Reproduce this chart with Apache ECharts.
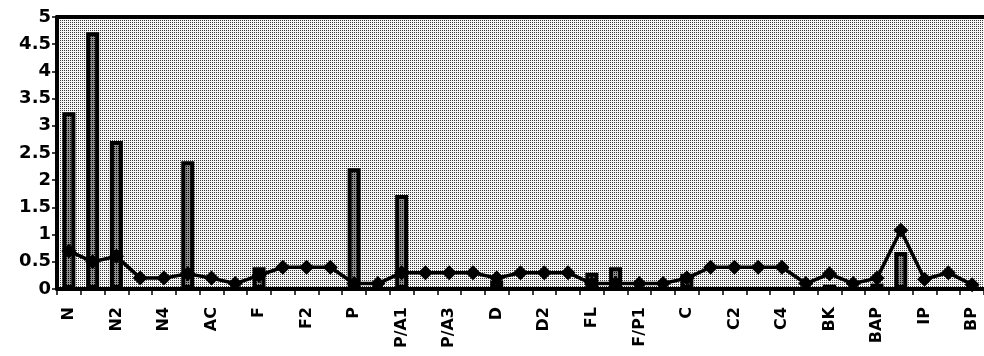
<!DOCTYPE html>
<html>
<head>
<meta charset="utf-8">
<script src="https://cdn.jsdelivr.net/npm/echarts@6/dist/echarts.min.js"></script>
<style>
  html, body { margin: 0; padding: 0; background: #fff; }
  #chart { width: 984px; height: 356px; }
</style>
</head>
<body>
<div id="chart"></div>
<script>
// Compound categories (every other one is labelled on the axis)
const categories = [
  'N', 'N1', 'N2', 'N3', 'N4', 'ACL', 'AC', 'DF', 'F', 'F1',
  'F2', 'F3', 'P', 'A', 'P/A1', 'P/A2', 'P/A3', 'P/A4', 'D', 'D1',
  'D2', 'D3', 'FL', 'PY', 'F/P1', 'BA', 'C', 'C1', 'C2', 'C3',
  'C4', 'BB', 'BK', 'BE', 'BAP', 'PER', 'IP', 'DA', 'BP'
];

// Bar series values
const barValues = [
  3.25, 4.72, 2.72, 0, 0, 2.35, 0, 0, 0.4, 0,
  0, 0, 2.22, 0.05, 1.73, 0, 0, 0, 0.15, 0,
  0, 0, 0.3, 0.4, 0, 0, 0.28, 0, 0, 0,
  0, 0, 0.08, 0, 0.1, 0.68, 0, 0, 0
];

// Line series values
const lineValues = [
  0.7, 0.5, 0.6, 0.2, 0.2, 0.28, 0.2, 0.1, 0.25, 0.4,
  0.4, 0.4, 0.1, 0.1, 0.3, 0.3, 0.3, 0.3, 0.2, 0.3,
  0.3, 0.3, 0.1, 0.1, 0.1, 0.1, 0.2, 0.4, 0.4, 0.4,
  0.4, 0.1, 0.28, 0.1, 0.2, 1.08, 0.18, 0.3, 0.08
];

const yTicks = { min: 0, max: 5, step: 0.5 };

// Halftone-like dotted fill: one dark pixel in each 2x2 tile
function dotPattern(dark, light) {
  const c = document.createElement('canvas');
  c.width = 2; c.height = 2;
  const g = c.getContext('2d');
  g.fillStyle = light; g.fillRect(0, 0, 2, 2);
  g.fillStyle = dark; g.fillRect(0, 0, 1, 1);
  return { image: c, repeat: 'repeat' };
}

const chart = echarts.init(document.getElementById('chart'), null, { renderer: 'canvas' });
const font = '"DejaVu Sans", Verdana, sans-serif';

chart.setOption({
  animation: false,
  grid: {
    left: 57, top: 17, right: -4, bottom: 67,
    show: true,
    borderWidth: 0,
    backgroundColor: dotPattern('#3a3a3a', '#f6f6f6')
  },
  xAxis: [{
    type: 'category',
    data: categories,
    boundaryGap: true,
    axisLine: { lineStyle: { color: '#000', width: 4 } },
    axisTick: { show: true, interval: 0, length: 6, lineStyle: { color: '#000', width: 1.5 } },
    axisLabel: {
      interval: 1,
      rotate: 90,
      margin: 18,
      color: '#000',
      fontFamily: font,
      fontWeight: 'bold',
      fontSize: 16
    },
    splitLine: { show: false }
  }, {
    type: 'category',
    data: categories,
    position: 'top',
    axisLine: { lineStyle: { color: '#000', width: 4 } },
    axisTick: { show: false },
    axisLabel: { show: false }
  }],
  yAxis: {
    type: 'value',
    min: yTicks.min,
    max: yTicks.max,
    interval: yTicks.step,
    axisLine: { show: true, lineStyle: { color: '#000', width: 4 } },
    axisTick: { show: true, length: 5, lineStyle: { color: '#000', width: 1.5 } },
    axisLabel: {
      margin: 6,
      color: '#000',
      fontFamily: font,
      fontWeight: 'bold',
      fontSize: 18
    },
    splitLine: { show: false }
  },
  series: [{
    type: 'bar',
    data: barValues,
    barWidth: 13,
    itemStyle: {
      color: dotPattern('#000000', '#909090'),
      borderColor: '#000',
      borderWidth: 4
    }
  }, {
    type: 'line',
    data: lineValues,
    symbol: 'diamond',
    symbolSize: 15,
    lineStyle: { color: '#000', width: 3.5 },
    itemStyle: { color: '#000' }
  }]
});
</script>
</body>
</html>
